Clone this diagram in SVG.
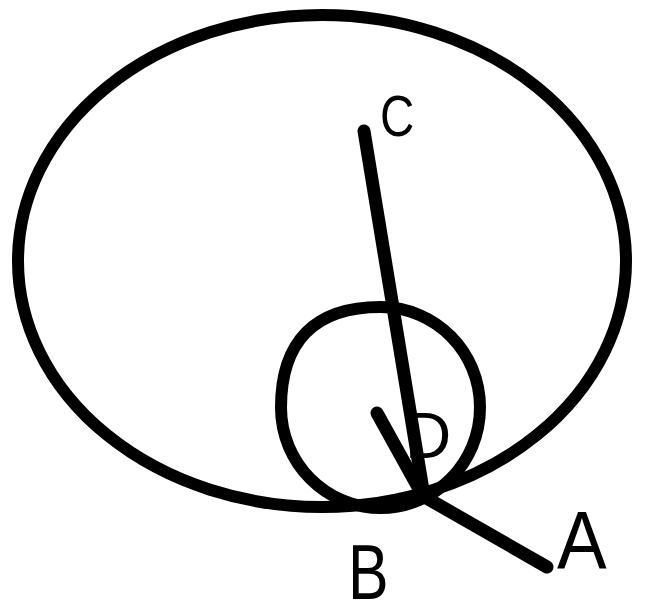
<svg xmlns="http://www.w3.org/2000/svg" width="646" height="607" viewBox="0 0 646 607">
  <style>
    .stroke { fill: none; stroke: #000; stroke-width: 12; stroke-linecap: round; stroke-linejoin: round; }
    .line { fill: none; stroke: #000; stroke-width: 13; stroke-linecap: round; stroke-linejoin: round; }
    .lbl { font-family: "Liberation Sans", Arial, sans-serif; fill: #000; }
  </style>
  <rect width="646" height="607" fill="#fff"/>
  <g id="outer-ellipse">
    <ellipse class="stroke" cx="322" cy="261" rx="304" ry="246"/>
  </g>
  <g id="inner-circle">
    <path class="stroke" d="M480,407.5 C480,463 435.5,508 380.5,508 C325.5,508 281,463 281,407.5 C281,341.2 314.8,307 380.5,307 C436,307 480,352 480,407.5 Z"/>
  </g>
  <g id="label-D">
    <text class="lbl" x="405" y="458" font-size="64">D</text>
  </g>
  <g id="connectors">
    <line class="line" x1="364" y1="131" x2="424" y2="496"/>
    <polyline class="line" points="377,413 423,496 547,567"/>
  </g>
  <g id="label-C">
    <text class="lbl" font-size="58" transform="translate(380,136) scale(0.82,1)">C</text>
  </g>
  <g id="label-B">
    <text class="lbl" font-size="78" transform="translate(348,599) scale(0.78,1)">B</text>
  </g>
  <g id="label-A">
    <text class="lbl" font-size="81" transform="translate(557,568) scale(0.92,1)">A</text>
  </g>
</svg>
